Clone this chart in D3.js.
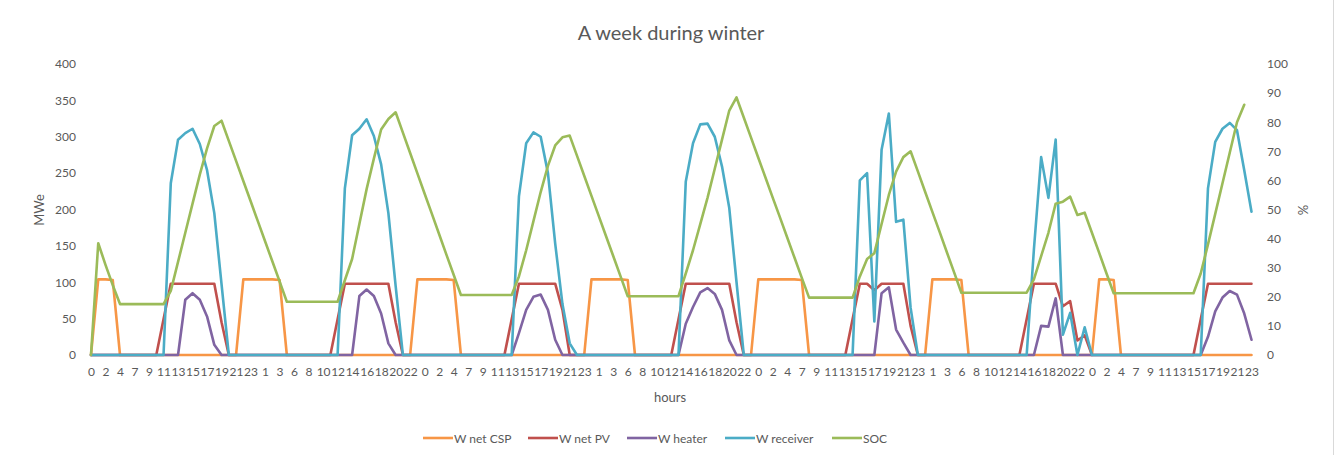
<!DOCTYPE html>
<html>
<head>
<meta charset="utf-8">
<script src="https://cdn.jsdelivr.net/npm/d3@7"></script>
<style>
  body { margin: 0; background: #fff; }
  text { font-family: Lato, "Open Sans", sans-serif; fill: #595959; }
</style>
</head>
<body>
<div id="chart"></div>
<script>
// hours of one block of 23 categories, repeated over the week
var dayHours = [0,1,2,3,4,6,7,8,9,10,11,12,13,14,15,16,17,18,19,20,21,22,23];
var hours = [].concat(dayHours, dayHours, dayHours, dayHours, dayHours, dayHours, dayHours);

var wNetCSP = [
  0,104,104,103,0,0,0,0,0,0,0,0,0,0,0,0,0,0,0,0,0,104,104,
  104,104,104,103,0,0,0,0,0,0,0,0,0,0,0,0,0,0,0,0,0,0,104,
  104,104,104,104,103,0,0,0,0,0,0,0,0,0,0,0,0,0,0,0,0,0,0,
  104,104,104,104,104,103,0,0,0,0,0,0,0,0,0,0,0,0,0,0,0,0,0,
  104,104,104,104,104,104,103,0,0,0,0,0,0,0,0,0,0,0,0,0,0,0,0,
  0,104,104,104,104,103,0,0,0,0,0,0,0,0,0,0,0,0,0,0,0,0,0,
  0,104,104,103,0,0,0,0,0,0,0,0,0,0,0,0,0,0,0,0,0,0,0
];
var wNetPV = [
  0,0,0,0,0,0,0,0,0,0,49,98,98,98,98,98,98,98,45,0,0,0,0,
  0,0,0,0,0,0,0,0,0,0,0,49,98,98,98,98,98,98,98,45,0,0,0,
  0,0,0,0,0,0,0,0,0,0,0,0,49,98,98,98,98,98,98,62,0,0,0,
  0,0,0,0,0,0,0,0,0,0,0,0,49,98,98,98,98,98,98,98,45,0,0,
  0,0,0,0,0,0,0,0,0,0,0,0,0,49,98,98,89,98,98,98,98,40,0,
  0,0,0,0,0,0,0,0,0,0,0,0,0,0,49,98,98,98,98,67,74,20,27,
  0,0,0,0,0,0,0,0,0,0,0,0,0,0,0,49,98,98,98,98,98,98,98
];
var wHeater = [
  0,0,0,0,0,0,0,0,0,0,0,0,0,76,85,76,53,14,0,0,0,0,0,
  0,0,0,0,0,0,0,0,0,0,0,0,0,0,81,90,81,57,16,0,0,0,0,
  0,0,0,0,0,0,0,0,0,0,0,0,0,30,62,80,83,62,21,0,0,0,0,
  0,0,0,0,0,0,0,0,0,0,0,0,0,43,66,86,92,84,62,20,0,0,0,
  0,0,0,0,0,0,0,0,0,0,0,0,0,0,0,0,0,85,93,35,17,0,0,
  0,0,0,0,0,0,0,0,0,0,0,0,0,0,0,0,40,39,78,0,0,0,0,
  0,0,0,0,0,0,0,0,0,0,0,0,0,0,0,0,25,60,79,88,83,57,21
];
var wReceiver = [
  0,0,0,0,0,0,0,0,0,0,0,236,296,305,311,290,254,195,97,0,0,0,0,
  0,0,0,0,0,0,0,0,0,0,0,0,229,302,311,324,301,262,195,95,0,0,0,
  0,0,0,0,0,0,0,0,0,0,0,0,0,218,291,306,300,250,153,70,16,0,0,
  0,0,0,0,0,0,0,0,0,0,0,0,0,238,291,317,318,300,259,202,100,0,0,
  0,0,0,0,0,0,0,0,0,0,0,0,0,0,240,250,46,282,332,183,186,65,0,
  0,0,0,0,0,0,0,0,0,0,0,0,0,0,0,145,272,216,296,28,58,0,38,
  0,0,0,0,0,0,0,0,0,0,0,0,0,0,0,0,229,293,311,319,309,254,197
];
var soc = [
  0,38.4,31,24,17.5,17.5,17.5,17.5,17.5,17.5,17.5,22,32,42,52,62,71,78.7,80.5,73.6,66.7,59.8,52.9,
  46,39.1,32.2,25.3,18.3,18.3,18.3,18.3,18.3,18.3,18.3,18.3,25.7,33,45,57,67.5,77.5,81.1,83.4,76.4,69.4,62.4,
  55.4,48.5,41.5,34.5,27.6,20.6,20.6,20.6,20.6,20.6,20.6,20.6,20.6,27,36,46,56,65,72,74.8,75.4,68.5,61.6,
  54.7,47.8,40.9,34,27.1,20.2,20.2,20.2,20.2,20.2,20.2,20.2,20.2,28,36,45,54,64,74,84,88.5,81.6,74.7,
  67.8,60.9,54,47.2,40.3,33.4,26.5,19.7,19.7,19.7,19.7,19.7,19.7,19.7,27,33,35,45,55,63,68,70,63.1,
  56.1,49.2,42.3,35.3,28.4,21.4,21.4,21.4,21.4,21.4,21.4,21.4,21.4,21.4,21.4,26,34,42,52,52.7,54.4,48.1,48.9,
  42,35.1,28.1,21.2,21.2,21.2,21.2,21.2,21.2,21.2,21.2,21.2,21.2,21.2,21.2,28,38,48.5,59,69.5,80,86
];

var leftTicks = [0,50,100,150,200,250,300,350,400];
var rightTicks = [0,10,20,30,40,50,60,70,80,90,100];

var series = [
  {name: "W net CSP",  values: wNetCSP,   color: "#F79646", axis: "left"},
  {name: "W net PV",   values: wNetPV,    color: "#C0504D", axis: "left"},
  {name: "W heater",   values: wHeater,   color: "#8064A2", axis: "left"},
  {name: "W receiver", values: wReceiver, color: "#4BACC6", axis: "left"},
  {name: "SOC",        values: soc,       color: "#9BBB59", axis: "right"}
];

let WIDTH = 1341, HEIGHT = 455;
let X0 = 91, X1 = 1251.5, Y0 = 355, Y1 = 64;

let svg = d3.select("#chart").append("svg").attr("width", WIDTH).attr("height", HEIGHT);
svg.append("rect").attr("width", WIDTH).attr("height", HEIGHT).attr("fill", "#fff");
svg.append("line").attr("x1", 1333.5).attr("x2", 1333.5).attr("y1", 0).attr("y2", HEIGHT)
   .attr("stroke", "#d9d9d9").attr("stroke-width", 1);

let xScale = d3.scaleLinear().domain([0, hours.length - 1]).range([X0, X1]);
let yLeft  = d3.scaleLinear().domain([0, 400]).range([Y0, Y1]);
let yRight = d3.scaleLinear().domain([0, 100]).range([Y0, Y1]);

//title
svg.append("text").attr("x", 671).attr("y", 40).attr("text-anchor", "middle")
   .style("font-size", "20px").text("A week during winter");

//x axis
let evenIdx = d3.range(0, hours.length, 2);
let xAxis = svg.append("g").attr("transform", "translate(0," + Y0 + ")")
   .call(d3.axisBottom(xScale).tickValues(evenIdx).tickSize(0).tickPadding(12)
         .tickFormat(function(i) { return hours[i]; }));
xAxis.select(".domain").attr("stroke", "#d9d9d9").attr("stroke-width", 1);
xAxis.selectAll("text").style("font-size", "12px").style("fill", "#595959");

//left axis
let lAxis = svg.append("g").attr("transform", "translate(" + (X0 - 15) + ",0)")
   .call(d3.axisLeft(yLeft).tickValues(leftTicks).tickSize(0).tickPadding(0));
lAxis.select(".domain").remove();
lAxis.selectAll("text").style("font-size", "12px").style("fill", "#595959");

//right axis
let rAxis = svg.append("g").attr("transform", "translate(1267,0)")
   .call(d3.axisRight(yRight).tickValues(rightTicks).tickSize(0).tickPadding(0));
rAxis.select(".domain").remove();
rAxis.selectAll("text").style("font-size", "12px").style("fill", "#595959");

//axis titles
svg.append("text").attr("transform", "translate(44,210) rotate(-90)").attr("text-anchor", "middle")
   .style("font-size", "13px").text("MWe");
svg.append("text").attr("transform", "translate(1308,210) rotate(-90)").attr("text-anchor", "middle")
   .style("font-size", "13px").text("%");
svg.append("text").attr("x", 670).attr("y", 402).attr("text-anchor", "middle")
   .style("font-size", "13px").text("hours");

//lines
series.forEach(function(s) {
  let yS = s.axis == "left" ? yLeft : yRight;
  let line = d3.line().x(function(d, i) { return xScale(i); }).y(function(d) { return yS(d); });
  svg.append("path").datum(s.values)
     .attr("fill", "none").attr("stroke", s.color).attr("stroke-width", 2.6)
     .attr("stroke-linejoin", "round").attr("stroke-linecap", "round")
     .attr("d", line);
});

//legend
let legendX = [423, 528, 627, 725, 832];
let legend = svg.selectAll(".legend").data(series).enter().append("g")
   .attr("transform", function(d, i) { return "translate(" + legendX[i] + ",438)"; });
legend.append("line").attr("x1", 0).attr("x2", 30).attr("y1", 0).attr("y2", 0)
   .attr("stroke", function(d) { return d.color; }).attr("stroke-width", 2.6);
legend.append("text").attr("x", 31).attr("y", 4.5).style("font-size", "12px")
   .text(function(d) { return d.name; });
</script>
</body>
</html>
